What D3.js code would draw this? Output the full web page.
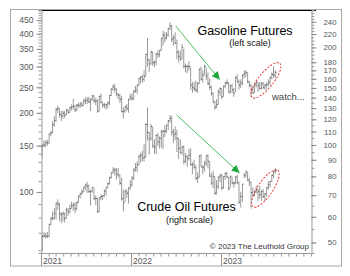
<!DOCTYPE html>
<html>
<head>
<meta charset="utf-8">
<script src="https://cdn.jsdelivr.net/npm/d3@7"></script>
<style>
  body { margin: 0; background: #fff; }
  svg { display: block; }
  text { font-family: "Liberation Sans", Arial, sans-serif; }
</style>
</head>
<body>
<svg id="chart" width="350" height="276"></svg>
<script>

// weekly bars, first week starting Mon 4 Jan 2021
let firstWeek = new Date(2021, 0, 4);

// crude oil futures, $/bbl (right scale)
let crudeHi = [
  53.0,53.9,53.5,53.9,57.0,59.8,62.3,63.8,66.4,67.9, 66.4,62.0,62.3,61.8,64.0,63.9,65.5,66.8,66.4,66.5,
  66.9,69.8,71.0,72.9,74.3,76.0,77.0,75.5,72.5,74.0, 73.5,69.9,68.6,69.0,70.4,70.0,73.0,74.0,76.7,79.8,
  82.2,85.4,85.0,84.9,84.9,81.0,79.3,72.8,72.9,72.9, 73.9,77.9,
  80.2,84.8,87.9,88.8,93.2,94.7,95.8,100.5,116.6,130.5, 109.7,116.0,114.0,104.0,107.7,109.0,106.3,111.4,111.2,115.0,
  115.4,119.4,123.7,123.2,111.8,114.1,111.5,105.0,104.1,99.1, 99.8,94.5,93.0,97.5,97.6,88.5,90.0,86.9,82.3,92.9,
  93.6,86.7,89.4,93.0,93.7,89.0,82.0,83.3,80.0,77.9, 80.0,81.5,
  81.5,80.0,82.4,82.7,79.7,80.6,79.6,77.0,80.1,80.9, 77.0,71.7,75.7,81.8,83.5,82.7,79.0,76.9,73.9,72.5,
  74.7,73.3,74.7,72.6,73.0,71.0,74.1,77.3,77.4,80.9, 83.0,84.9
];
let crudeLo = [
  47.2,51.8,51.4,51.6,52.0,56.5,58.5,59.0,58.9,63.1, 58.3,57.3,58.1,57.6,59.3,60.5,61.5,63.6,62.6,61.6,
  62.8,66.3,68.4,70.0,71.5,72.5,71.0,71.1,65.0,71.2, 67.6,65.2,61.7,61.8,67.5,67.6,69.0,69.8,73.5,75.5,
  78.7,81.5,80.5,78.3,79.5,75.3,67.4,62.4,66.8,68.6, 66.0,72.8,
  74.3,78.2,82.7,82.5,86.5,88.2,88.9,88.9,91.6,103.0, 93.5,103.0,98.0,93.9,93.7,99.0,97.4,98.2,97.2,105.7,
  108.8,111.3,117.2,107.0,101.5,103.4,95.1,90.6,94.3,93.0, 87.0,88.0,85.7,89.5,86.4,81.2,84.5,78.2,76.3,79.3,
  85.6,81.3,82.8,86.0,84.7,79.8,75.3,73.6,70.1,70.3, 73.0,76.8,
  72.5,73.2,78.0,79.0,72.3,73.8,75.6,73.8,75.5,75.7, 65.7,64.1,66.8,79.0,79.2,77.3,74.7,63.6,69.4,69.4,
  70.8,67.0,68.4,67.1,68.6,67.0,69.3,72.7,73.9,76.9, 79.1,81.4
];
let crudeCl = [
  52.2,52.4,52.3,52.2,56.9,59.5,59.2,61.5,66.1,65.6, 61.4,60.9,61.5,59.3,63.1,62.1,63.6,64.9,65.4,63.6,
  66.3,69.6,70.9,71.6,74.1,75.2,74.6,71.8,72.1,73.9, 68.3,68.4,62.3,68.7,69.3,69.7,72.0,74.0,75.9,79.4,
  82.3,83.8,83.6,81.3,80.8,76.1,68.2,66.3,71.7,70.9, 73.8,75.2,
  78.9,83.8,85.1,86.8,92.3,93.1,91.1,91.6,115.7,109.3, 104.7,113.9,99.3,98.3,107.0,102.1,104.7,109.8,110.5,110.3,
  115.1,118.9,120.7,109.6,107.6,108.4,104.8,97.6,94.7,98.6, 89.0,92.1,90.8,93.1,86.9,86.8,85.1,78.7,79.5,92.6,
  85.6,85.1,87.9,92.6,89.0,80.1,76.3,80.0,71.0,74.3, 79.6,80.3,
  73.8,79.9,81.6,79.7,73.4,79.7,76.3,76.3,79.7,76.7, 66.7,69.3,75.7,80.7,82.5,77.9,76.8,71.3,70.0,71.7,
  72.7,71.7,70.2,71.8,69.2,70.6,73.9,75.4,77.1,80.6, 82.8,83.2
];

// gasoline futures, cents/gal (left scale)
let gasHi = [
  152,157,157,158,167,171,186,194,209,213, 208,203,204,203,207,206,211,215,226,214,
  216,218,220,220,226,229,230,230,227,234, 233,228,225,232,237,219,218,217,221,234,
  248,256,258,248,238,236,232,210,213,216, 226,236,
  237,244,253,256,270,276,280,290,335,385, 320,345,342,316,338,346,346,385,410,405,
  405,420,442,432,395,405,380,345,345,365, 350,308,305,315,298,262,262,265,262,295,
  300,290,305,298,285,270,254,240,222,225, 245,250,
  248,254,262,268,262,256,258,248,275,280, 268,268,280,290,290,285,265,258,252,258,
  266,262,262,262,262,258,260,268,275,285, 300,290
];
let gasLo = [
  136,148,148,150,153,163,167,177,184,200, 192,186,190,191,196,198,200,204,206,201,
  203,209,209,211,213,216,216,218,203,222, 218,214,200,202,217,209,208,206,208,214,
  232,243,239,231,225,218,201,190,200,203, 200,224,
  222,224,238,236,253,258,261,263,275,300, 286,305,302,298,303,324,325,345,360,370,
  380,389,413,372,360,365,320,310,315,320, 295,285,283,290,245,238,242,240,238,258,
  265,260,278,266,255,245,232,218,205,208, 215,232,
  225,230,248,255,238,236,238,230,240,260, 245,248,255,270,274,259,250,230,236,238,
  250,240,245,245,246,244,246,252,255,268, 272,270
];
let gasCl = [
  150,151,154,153,166,168,180,187,206,208, 197,195,199,196,205,201,209,211,212,205,
  214,213,216,213,222,222,224,220,225,232, 222,222,203,231,219,214,214,215,218,233,
  246,251,246,236,233,225,202,203,211,208, 225,229,
  226,241,244,255,270,273,268,275,334,318, 307,340,310,312,336,333,346,384,395,385,
  395,418,428,381,385,368,340,328,320,355, 300,300,300,300,255,250,247,244,258,292,
  268,278,300,276,258,250,237,220,210,215, 240,247,
  230,252,260,260,240,253,245,238,272,262, 255,260,278,282,285,262,254,246,238,256,
  262,254,248,258,250,254,257,262,272,280, 278,285
];

let gasLabels = [100, 150, 200, 250, 300, 350, 400, 450];
let crudeLabels = [50, 60, 70, 80, 90, 100, 110, 120, 130, 140, 150, 160, 170, 180, 200, 220, 240];
let yearLabels = ["2021", "2022", "2023"];


let svg = d3.select("#chart");

let x = d3.scaleTime()
    .domain([new Date(2021, 0, 1), new Date(2024, 0, 1)])
    .range([41, 311]);
let yGas = d3.scaleLog().domain([58.6, 492]).range([253, 10]);
let yOil = d3.scaleLog().domain([46.4, 261]).range([253, 10]);

let weeks = crudeHi.map((v, i) => d3.timeDay.offset(d3.timeWeek.offset(firstWeek, i), 2));


// frame
svg.append("rect")
    .attr("x", 10.5).attr("y", 9.5)
    .attr("width", 331).attr("height", 256.5)
    .attr("fill", "none").attr("stroke", "#a8a8a8");

svg.append("line")
    .attr("x1", 41).attr("x2", 316).attr("y1", 10.5).attr("y2", 10.5)
    .attr("stroke", "#000");

svg.append("line")
    .attr("x1", 41).attr("x2", 311).attr("y1", 253.5).attr("y2", 253.5)
    .attr("stroke", "#999");


// left axis
let gasMinor = d3.range(60, 491, 10);
svg.append("g")
    .attr("transform", "translate(41.5,0)")
    .call(d3.axisLeft(yGas).tickValues(gasMinor).tickSize(3).tickFormat(""))
    .call(g => g.selectAll("line,path").attr("stroke", "#999"));
svg.append("g")
    .attr("transform", "translate(41.5,0)")
    .call(d3.axisLeft(yGas).tickValues(gasLabels).tickSize(5).tickPadding(3).tickFormat(d3.format("d")))
    .call(g => g.select(".domain").remove())
    .call(g => g.selectAll("line").attr("stroke", "#888"))
    .call(g => g.selectAll("text").attr("fill", "#555").attr("font-size", 8.5)
      .attr("font-family", "'Liberation Sans', Arial, sans-serif"));

// right axis
let crudeMinor = d3.range(50, 261, 5);
svg.append("g")
    .attr("transform", "translate(311.5,0)")
    .call(d3.axisRight(yOil).tickValues(crudeMinor).tickSize(3).tickFormat(""))
    .call(g => g.selectAll("line,path").attr("stroke", "#999"));
svg.append("g")
    .attr("transform", "translate(311.5,0)")
    .call(d3.axisRight(yOil).tickValues(crudeLabels).tickSize(5).tickFormat(d3.format("d")))
    .call(g => g.select(".domain").remove())
    .call(g => g.selectAll("line").attr("stroke", "#888"))
    .call(g => g.selectAll("text").attr("fill", "#555").attr("font-size", 7.8)
      .attr("text-anchor", "end").attr("x", 25)
      .attr("font-family", "'Liberation Sans', Arial, sans-serif"));

// x axis
svg.append("g")
    .attr("transform", "translate(0,253.5)")
    .call(d3.axisBottom(x).ticks(d3.timeMonth.every(1)).tickSize(3).tickFormat(""))
    .call(g => g.select(".domain").remove())
    .call(g => g.selectAll("line").attr("stroke", "#999"));

let years = yearLabels.map(s => new Date(+s, 0, 1));
svg.selectAll(".yr")
  .data(years)
  .enter().append("line")
    .attr("x1", d => Math.round(x(d)) + 0.5).attr("x2", d => Math.round(x(d)) + 0.5)
    .attr("y1", 253).attr("y2", 266)
    .attr("stroke", "#999");
svg.selectAll(".yrlbl")
  .data(years)
  .enter().append("text")
    .attr("x", d => x(d) + 2).attr("y", 264)
    .attr("font-size", 8.5).attr("fill", "#555")
    .text((d, i) => yearLabels[i]);


// bars
function drawBars (hi, lo, cl, y) {
  let g = svg.append("g");
  g.selectAll(".bar")
    .data(weeks)
    .enter().append("line")
      .attr("x1", d => x(d)).attr("x2", d => x(d))
      .attr("y1", (d, i) => y(hi[i])).attr("y2", (d, i) => y(lo[i]))
      .attr("stroke", "#999").attr("stroke-width", 1);
  g.selectAll(".cls")
    .data(weeks)
    .enter().append("line")
      .attr("x1", d => x(d)).attr("x2", d => x(d) + 1.2)
      .attr("y1", (d, i) => y(cl[i])).attr("y2", (d, i) => y(cl[i]))
      .attr("stroke", "#555").attr("stroke-width", 1);
}
drawBars(gasHi, gasLo, gasCl, yGas);
drawBars(crudeHi, crudeLo, crudeCl, yOil);


// annotations
svg.append("defs").append("marker")
    .attr("id", "ah")
    .attr("viewBox", "0 0 10 10")
    .attr("refX", 10).attr("refY", 5)
    .attr("markerWidth", 8).attr("markerHeight", 8)
    .attr("markerUnits", "userSpaceOnUse")
    .attr("orient", "auto")
  .append("path")
    .attr("d", "M0,0L10,5L0,10z")
    .attr("fill", "#1ea83c");

let arrows = [
  {from: [new Date(2022, 6, 1), 428], to: [new Date(2022, 11, 27), 267], y: yGas},
  {from: [new Date(2022, 6, 5), 123.8], to: [new Date(2023, 2, 17), 81.9], y: yOil}
];
for (let a of arrows) {
  svg.append("line")
    .attr("x1", x(a.from[0])).attr("y1", a.y(a.from[1]))
    .attr("x2", x(a.to[0])).attr("y2", a.y(a.to[1]))
    .attr("stroke", "#4cc062").attr("stroke-width", 1)
    .attr("marker-end", "url(#ah)");
}

let rings = [
  {at: [new Date(2023, 6, 2), 265.6], y: yGas, rot: -51},
  {at: [new Date(2023, 5, 30), 73.4], y: yOil, rot: -56}
];
for (let r of rings) {
  svg.append("ellipse")
    .attr("transform", `translate(${x(r.at[0])},${r.y(r.at[1])}) rotate(${r.rot})`)
    .attr("rx", 22).attr("ry", 7.5)
    .attr("fill", "none").attr("stroke", "#e43a3a")
    .attr("stroke-width", 1).attr("stroke-dasharray", "2,1.5");
}

svg.append("text")
    .attr("x", 245).attr("y", 35).attr("text-anchor", "middle")
    .attr("font-size", 12.5).attr("fill", "#000")
    .text("Gasoline Futures");
svg.append("text")
    .attr("x", 250).attr("y", 46).attr("text-anchor", "middle")
    .attr("font-size", 9).attr("fill", "#111")
    .text("(left scale)");
svg.append("text")
    .attr("x", 272).attr("y", 100)
    .attr("font-size", 9.5).attr("fill", "#444")
    .text("watch...");
svg.append("text")
    .attr("x", 186.5).attr("y", 211).attr("text-anchor", "middle")
    .attr("font-size", 12.5).attr("fill", "#000")
    .text("Crude Oil Futures");
svg.append("text")
    .attr("x", 189.5).attr("y", 223).attr("text-anchor", "middle")
    .attr("font-size", 9).attr("fill", "#111")
    .text("(right scale)");
svg.append("text")
    .attr("x", 309).attr("y", 249).attr("text-anchor", "end")
    .attr("font-size", 8).attr("fill", "#333")
    .text("© 2023 The Leuthold Group");

</script>
</body>
</html>
